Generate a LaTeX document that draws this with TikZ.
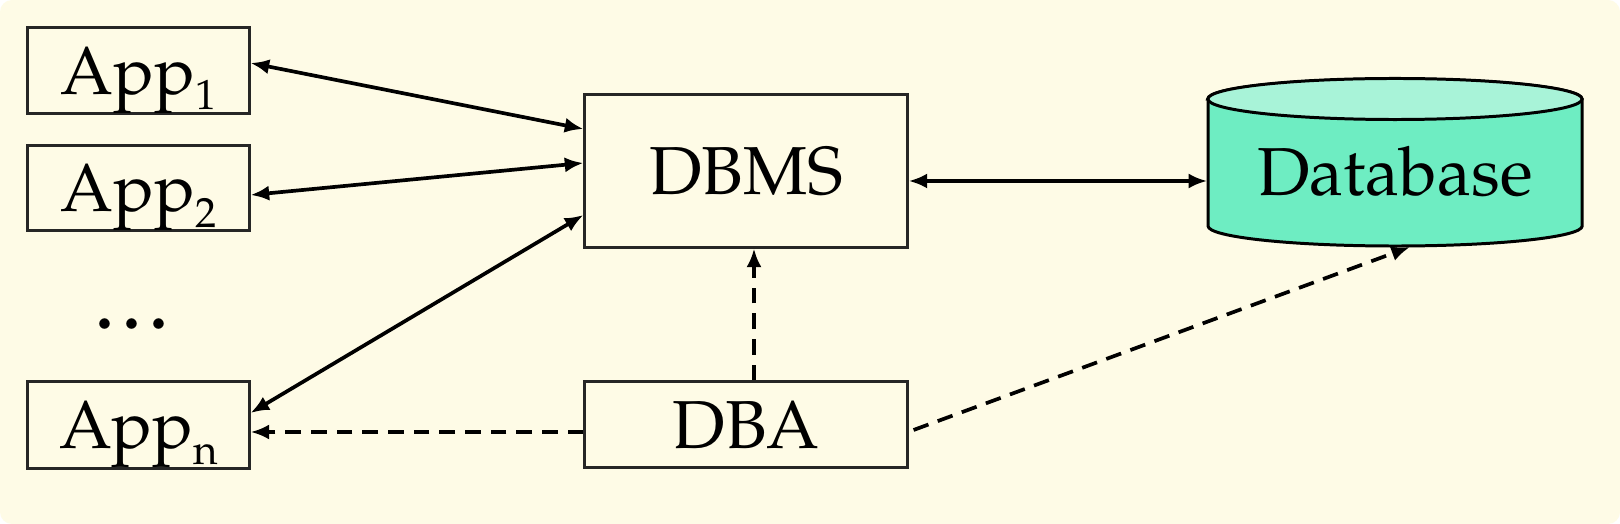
\documentclass[tikz,border=0pt]{standalone}
\usepackage[T1]{fontenc}
\usepackage{mathpazo}
\usepackage{tikz}
\usetikzlibrary{calc, arrows.meta, positioning}

\definecolor{nennhat}{HTML}{FEFBE6}
\definecolor{dbthan}{HTML}{6EEDC2}
\definecolor{dbnap}{HTML}{A8F3D8}

\newcommand{\chiso}[1]{\raisebox{-4.5pt}{\fontsize{12pt}{13pt}\selectfont #1}}

\tikzset{
    hop/.style={draw=black!85, line width=0.85pt, fill=nennhat, inner sep=0pt,
        text height=14pt, text depth=0.6pt},
    lienket/.style={<->, line width=1.05pt},
    quanly/.style={->, line width=1.05pt, dash pattern=on 4.5pt off 2.8pt},
}

\begin{document}
\begin{tikzpicture}[>={Latex[length=5.3pt,width=4.3pt]}, x=0.01cm, y=0.01cm,
    font=\fontsize{19.3pt}{23pt}\selectfont]
    % Nền
    \fill[white] (0,0) rectangle (1620,524);
    \fill[nennhat, rounded corners=0.12cm] (0,0) rectangle (1620,524);
    \useasboundingbox (0,0) rectangle (1620,524);

    % Các ứng dụng
    \node[hop, minimum width=2.21cm, minimum height=0.85cm] (app1) at (138.5,453.5) {App\chiso{1}};
    \node[hop, minimum width=2.21cm, minimum height=0.84cm] (app2) at (138.5,336) {App\chiso{2}};
    \node (dots) at (137,200) {\textbf{\ldots}};
    \node[hop, minimum width=2.21cm, minimum height=0.86cm] (appn) at (138.5,99) {App\chiso{n}};

    % DBMS và DBA
    \node[hop, minimum width=3.22cm, minimum height=1.52cm] (dbms) at (746,353) {DBMS};
    \node[hop, minimum width=3.22cm, minimum height=0.85cm] (dba) at (746,99.5) {DBA};

    % Cơ sở dữ liệu (hình trụ)
    \filldraw[fill=dbthan, line width=0.85pt] (1208,425) -- (1208,298)
        arc[start angle=180, end angle=360, x radius=1.87cm, y radius=0.2cm]
        -- (1582,425)
        arc[start angle=0, end angle=180, x radius=1.87cm, y radius=0.2cm] -- cycle;
    \filldraw[fill=dbnap, line width=0.85pt] (1395,425) ellipse [x radius=1.87cm, y radius=0.205cm];
    \node[inner sep=0pt, minimum width=3.74cm, text height=14pt, text depth=0.6pt] (db) at (1395,352.5) {Database};

    % Mũi tên hai chiều
    \draw[lienket] ($(app1.east)+(0,7.5)$) -- ($(dbms.west)+(0,42)$);
    \draw[lienket] ($(app2.east)+(0,-7)$) -- ($(dbms.west)+(0,8)$);
    \draw[lienket] ($(appn.east)+(0,12)$) -- ($(dbms.west)+(0,-44)$);
    \draw[lienket] ($(dbms.east)+(0,-10)$) -- ($(db.west)+(0,-9.5)$);

    % Mũi tên nét đứt từ DBA
    \draw[quanly] ($(dba.north)+(8,0)$) -- ($(dbms.south)+(8,0)$);
    \draw[quanly] ($(dba.west)+(0,-7.5)$) -- ($(appn.east)+(0,-7)$);
    \draw[quanly] ($(dba.east)+(5,-5.5)$) -- ($(db.center)+(15,-75.5)$);
\end{tikzpicture}
\end{document}
